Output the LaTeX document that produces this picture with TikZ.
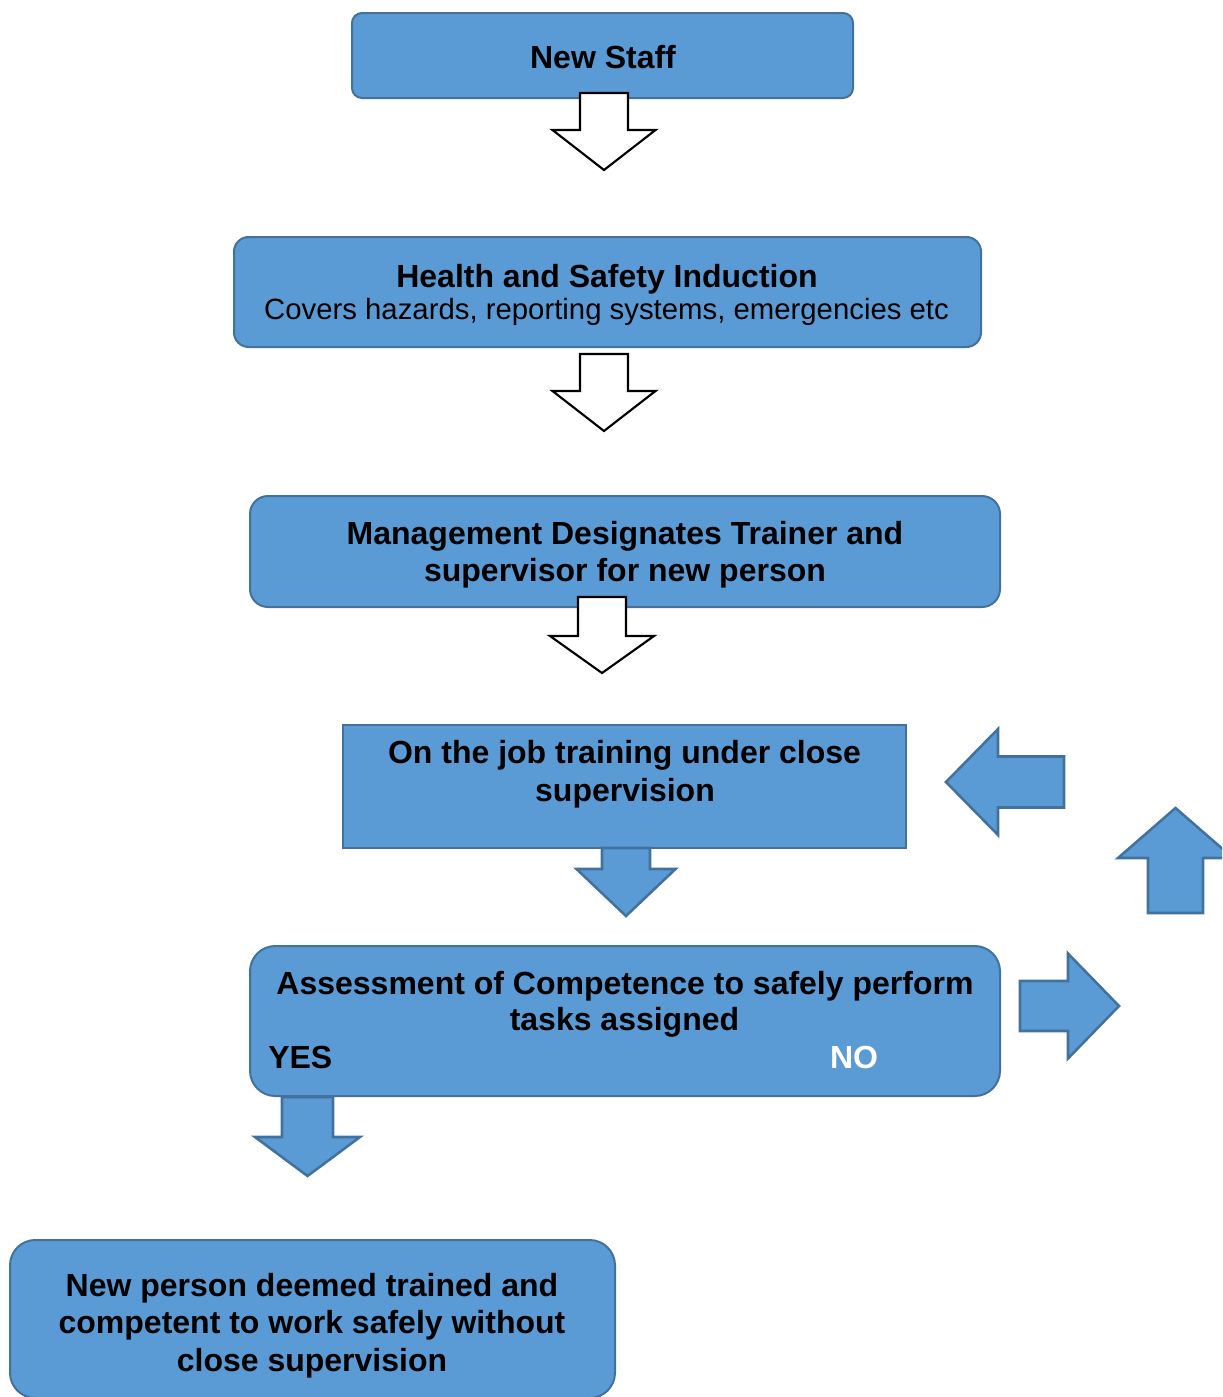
\documentclass[tikz,border=0pt]{standalone}
\usepackage{fontspec}
\setmainfont{Liberation Sans}
\definecolor{boxfill}{HTML}{5B9BD5}
\definecolor{boxline}{HTML}{41719C}

% vertical block arrow: style, centre x, base y, neck y, half shaft, half head, tip y
\newcommand{\vblockarrow}[7]{%
  \draw[#1] (#2-#5,#3) -- (#2+#5,#3) -- (#2+#5,#4) -- (#2+#6,#4) -- (#2,#7)
    -- (#2-#6,#4) -- (#2-#5,#4) -- cycle;}
% horizontal block arrow: style, centre y, base x, neck x, half shaft, half head, tip x
\newcommand{\hblockarrow}[7]{%
  \draw[#1] (#3,#2-#5) -- (#3,#2+#5) -- (#4,#2+#5) -- (#4,#2+#6) -- (#7,#2)
    -- (#4,#2-#6) -- (#4,#2-#5) -- cycle;}

\tikzset{
  rbox/.style={draw=boxline, fill=boxfill, line width=1.5pt, inner sep=0pt},
  openarrow/.style={draw=black, fill=white, line width=1.6pt, line join=miter},
  bluearrow/.style={draw=boxline, fill=boxfill, line width=1.9pt, line join=miter},
  hd/.style={font=\fontsize{24}{28}\selectfont\bfseries, inner sep=0pt, anchor=base},
  sub/.style={font=\fontsize{22}{26}\selectfont, inner sep=0pt, anchor=base},
}

\begin{document}
\begin{tikzpicture}[x=0.75pt, y=-0.75pt]
\useasboundingbox (0,0) rectangle (1222,1397);
\clip (0,0) rectangle (1222,1397);

% boxes
\node[rbox, rounded corners=7.5pt, minimum width=375.75pt, minimum height=63.75pt]
  (newstaff) at (602.5,55.5) {};
\node[rbox, rounded corners=11pt, minimum width=560.25pt, minimum height=82.5pt]
  (induction) at (607.5,292) {};
\node[rbox, rounded corners=13.5pt, minimum width=562.5pt, minimum height=83.25pt]
  (designate) at (625,551.5) {};
\node[rbox, minimum width=422.25pt, minimum height=92.25pt]
  (training) at (624.5,786.5) {};
\node[rbox, rounded corners=19pt, minimum width=562.5pt, minimum height=112.5pt]
  (assess) at (625,1021) {};
\node[rbox, rounded corners=19pt, minimum width=453.75pt, minimum height=118.5pt]
  (competent) at (312.5,1319) {};

% open arrows between the first boxes
\vblockarrow{openarrow}{604}{93}{130}{24}{51.5}{170}
\vblockarrow{openarrow}{604}{354}{391}{24}{51.5}{431}
\vblockarrow{openarrow}{602}{597}{636}{24}{52}{673}

% blue arrows
\vblockarrow{bluearrow}{626}{848}{869}{24}{49.5}{916}
\vblockarrow{bluearrow}{307.5}{1097}{1137}{25.5}{52.5}{1176}
\hblockarrow{bluearrow}{1006}{1020}{1068}{25}{52.5}{1119}
\vblockarrow{bluearrow}{1175.5}{913}{858}{27.5}{57.5}{808}
\hblockarrow{bluearrow}{782}{1064}{998}{25.5}{53}{946}

% texts
\node[hd] (t-newstaff) at (603,68) {New Staff};
\node[hd] (t-ind1) at (607,287) {Health and Safety Induction};
\node[sub] (t-ind2) at (606.5,319) {Covers hazards, reporting systems, emergencies etc};
\node[hd] (t-des1) at (625,544) {Management Designates Trainer and};
\node[hd] (t-des2) at (625,581) {supervisor for new person};
\node[hd] (t-tr1) at (624.5,763) {On the job training under close};
\node[hd] (t-tr2) at (625,801) {supervision};
\node[hd] (t-as1) at (625,994) {Assessment of Competence to safely perform};
\node[hd] (t-as2) at (624.5,1030) {tasks assigned};
\node[hd, anchor=base west] (t-yes) at (268,1068) {YES};
\node[hd, text=white] (t-no) at (854,1068) {NO};
\node[hd] (t-c1) at (312,1296) {New person deemed trained and};
\node[hd] (t-c2) at (312,1333) {competent to work safely without};
\node[hd] (t-c3) at (312,1371) {close supervision};
\end{tikzpicture}
\end{document}
